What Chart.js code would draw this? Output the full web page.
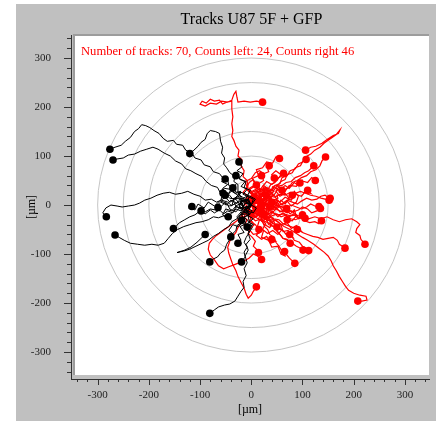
<!DOCTYPE html>
<html>
<head>
<meta charset="utf-8">
<script src="https://cdn.jsdelivr.net/npm/chart.js@4"></script>
<style>
  html, body { margin: 0; padding: 0; background: #fff; }
</style>
</head>
<body>
<canvas id="chart" width="443" height="421"></canvas>
<script>
// Tracks U87 5F + GFP — every track starts at the origin, the dot marks its end

const titleText = 'Tracks U87 5F + GFP';
const xTicks = [-300, -200, -100, 0, 100, 200, 300];
const yTicks = [-300, -200, -100, 0, 100, 200, 300];
const ringRadii = [50, 100, 150, 200, 250, 300];

// tracks that end left of the origin (black)
const blackTracks = [
  [[0,0],[-10,-8],[-22,2],[-14,14],[-26,22],[-20,28],[-30,26],[-36,36],[-44,40],[-46,52],[-56,56],[-62,64],[-74,68],[-80,78],[-92,82],[-98,92],[-110,96],[-116,106],[-128,112],[-134,122],[-146,124],[-152,132],[-164,130],[-172,136],[-180,146],[-190,152],[-198,158],[-206,162],[-214,164],[-220,156],[-228,150],[-236,138],[-246,130],[-254,122],[-266,118],[-276,114]],
  [[0,0],[-14,8],[-6,20],[-20,26],[-32,14],[-30,12],[-42,14],[-50,22],[-60,24],[-66,36],[-78,40],[-88,48],[-96,58],[-108,64],[-118,70],[-128,74],[-136,84],[-148,90],[-158,100],[-170,106],[-182,114],[-192,118],[-204,114],[-216,110],[-228,104],[-240,102],[-250,96],[-262,94],[-270,92]],
  [[0,0],[8,12],[-6,20],[-18,12],[-26,26],[-26,42],[-34,48],[-32,58],[-42,66],[-48,76],[-54,84],[-52,96],[-58,106],[-56,118],[-60,130],[-62,146],[-70,150],[-80,152],[-86,146],[-90,134],[-98,128],[-104,120],[-112,112],[-120,105]],
  [[0,0],[-10,6],[-4,16],[-16,22],[-8,32],[-20,38],[-12,48],[-24,54],[-16,64],[-28,70],[-18,78],[-24,88]],
  [[0,0],[-12,-6],[-20,4],[-30,-2],[-36,10],[-26,20],[-38,28],[-48,22],[-56,34],[-46,42],[-58,48],[-51,53]],
  [[0,0],[-8,12],[-18,6],[-26,16],[-20,26],[-32,24],[-40,34],[-30,42],[-36,35]],
  [[0,0],[-10,-10],[-22,-4],[-30,-14],[-42,-8],[-48,4],[-60,8],[-56,22],[-51,20]],
  [[0,0],[-10,8],[-22,0],[-30,12],[-42,6],[-50,16],[-62,8],[-72,-2],[-84,6],[-92,-6],[-104,2],[-110,-10],[-122,-6],[-116,-3]],
  [[0,0],[-12,-10],[-24,-2],[-18,12],[-34,14],[-38,-2],[-46,6],[-58,10],[-68,6],[-78,12],[-90,10],[-100,18],[-112,22],[-124,28],[-136,24],[-148,22],[-160,26],[-172,24],[-184,20],[-196,14],[-208,10],[-218,4],[-228,0],[-240,-2],[-252,-4],[-262,-2],[-274,0],[-284,-6],[-290,-16],[-283,-24]],
  [[0,0],[-6,12],[-20,8],[-16,-6],[-30,-4],[-34,-12],[-42,-20],[-54,-22],[-64,-26],[-74,-24],[-84,-30],[-96,-34],[-108,-36],[-120,-40],[-132,-44],[-144,-50],[-154,-58],[-162,-68],[-170,-78],[-182,-82],[-194,-80],[-208,-82],[-222,-80],[-236,-78],[-248,-72],[-258,-66],[-266,-61]],
  [[0,0],[-12,-12],[-24,-6],[-20,8],[-32,2],[-42,-2],[-52,4],[-60,-4],[-70,-10],[-80,-8],[-90,-14],[-100,-12],[-110,-20],[-120,-24],[-130,-30],[-140,-36],[-146,-42],[-152,-48]],
  [[0,0],[-8,10],[-20,6],[-14,-6],[-20,-12],[-30,-8],[-36,-16],[-46,-12],[-54,-18],[-62,-10],[-72,-16],[-80,-10],[-90,-18],[-98,-12]],
  [[0,0],[-12,4],[-18,-10],[-8,-18],[-22,-20],[-28,-28],[-38,-34],[-44,-44],[-54,-50],[-64,-58],[-74,-64],[-84,-72],[-96,-78],[-108,-84],[-120,-90],[-132,-94],[-145,-97],[-130,-92],[-118,-86],[-106,-76],[-98,-68],[-90,-60]],
  [[0,0],[-12,-4],[-8,-14],[-20,-18],[-16,-26],[-20,-36],[-28,-42],[-30,-52],[-38,-60],[-42,-70],[-48,-80],[-52,-92],[-60,-98],[-66,-106],[-74,-110],[-81,-116]],
  [[0,0],[-8,-6],[2,-12],[-6,-22],[4,-28],[-6,-36],[-10,-46],[-4,-56],[-10,-66],[-14,-76],[-8,-86],[-14,-96],[-12,-106],[-19,-116]],
  [[0,0],[10,-6],[4,-16],[-8,-12],[-4,-34],[2,-46],[-6,-58],[-2,-70],[-10,-80],[-6,-92],[-12,-104],[-8,-118],[-14,-130],[-10,-144],[-16,-156],[-14,-168],[-20,-176],[-26,-186],[-32,-196],[-42,-202],[-52,-204],[-64,-208],[-72,-214],[-81,-221]],
  [[0,0],[-10,-8],[-4,-20],[-16,-26],[-10,-38],[-22,-44],[-14,-56],[-26,-60],[-20,-72],[-30,-82],[-26,-78]],
  [[0,0],[-12,4],[-20,-8],[-30,-2],[-38,-12],[-50,-8],[-56,-20],[-46,-30],[-45,-24]],
  [[0,0],[-6,12],[-18,8],[-24,18],[-36,12],[-44,22],[-40,32],[-52,34],[-62,28],[-55,24]],
  [[0,0],[-12,-4],[-8,-16],[-20,-14],[-28,-24],[-22,-36],[-12,-40],[-19,-31]],
  [[0,0],[-6,-12],[-18,-14],[-24,-26],[-14,-34],[-26,-44],[-36,-40],[-44,-52],[-34,-60],[-40,-65]],
  [[0,0],[-10,-10],[-2,-18],[-14,-24],[-6,-34],[4,-40],[-8,-45]],
  [[0,0],[4,12],[-8,18],[-2,30],[-14,36],[-10,48],[-22,52],[-26,64],[-30,60]],
  [[0,0],[-8,10],[-20,14],[-28,4],[-40,10],[-48,0],[-60,6],[-70,-4],[-62,-12],[-65,-5]],
];

// tracks that end right of the origin (red); short central ones first
const redTracks = [
  [[0,0],[8,-10],[18,-4],[26,-16],[34,-8],[28,6],[38,14],[30,26],[18,20],[10,30],[-2,24],[-10,34],[-4,46],[4,52],[10,41]],
  [[0,0],[-8,10],[2,20],[-6,30],[6,38],[16,30],[24,40],[34,32],[42,22],[36,10],[44,0],[32,-6],[24,6],[30,20]],
  [[0,0],[10,8],[4,18],[14,26],[24,18],[32,28],[22,38],[30,48],[40,42],[50,50],[58,62],[48,70],[40,62],[45,55]],
  [[0,0],[12,-6],[22,4],[30,-4],[40,6],[50,-2],[58,10],[66,2],[74,14],[66,24],[56,18],[48,28],[54,38],[60,30]],
  [[0,0],[-10,-6],[-4,-18],[6,-26],[16,-20],[22,-32],[34,-26],[42,-36],[36,-46],[26,-40],[18,-30],[25,-20]],
  [[0,0],[6,-12],[-2,-22],[8,-32],[20,-28],[28,-38],[22,-50],[32,-58],[42,-52],[52,-60],[60,-50],[50,-45]],
  [[0,0],[12,4],[20,-6],[30,2],[38,-10],[48,-4],[56,-14],[66,-8],[76,-18],[84,-10],[88,-22],[80,-32],[70,-30]],
  [[0,0],[-6,-12],[4,-20],[-4,-32],[8,-40],[16,-52],[10,-62],[20,-70],[30,-64],[38,-78],[48,-74],[40,-70]],
  [[0,0],[8,-8],[-2,-16],[-12,-10],[-18,-22],[-8,-30],[-14,-42],[-4,-50],[4,-60],[14,-58],[15,-50]],
  [[0,0],[10,10],[22,6],[32,14],[40,4],[52,10],[60,0],[70,8],[78,-2],[88,6],[92,18],[84,28],[80,20]],
  [[0,0],[6,12],[18,14],[14,26],[26,32],[36,26],[46,36],[56,30],[66,40],[74,34],[84,46],[92,40],[100,52],[95,45]],
  [[0,0],[-6,12],[4,22],[-4,34],[8,42],[2,54],[14,60],[10,72],[22,76],[30,88],[38,86],[35,80]],
  [[0,0],[12,10],[6,22],[18,30],[12,42],[24,50],[20,62],[34,68],[30,80],[42,86],[48,98],[55,95]],
  [[0,0],[-8,-4],[-14,8],[-6,18],[-16,26],[-8,36],[-12,48],[0,54],[8,66],[16,70],[24,64],[20,60]],
  [[0,0],[8,-14],[20,-10],[30,-20],[24,-32],[36,-38],[48,-30],[58,-40],[70,-36],[78,-48],[88,-42],[98,-54],[90,-50]],
  [[0,0],[10,-8],[4,-22],[16,-30],[12,-44],[24,-52],[20,-66],[34,-72],[40,-86],[52,-84],[58,-100],[66,-104],[65,-95]],
  [[0,0],[12,-4],[22,6],[34,0],[44,12],[56,6],[66,16],[78,10],[86,22],[98,18],[106,28],[116,24],[110,30]],
  [[0,0],[10,14],[22,10],[30,22],[44,20],[52,32],[66,28],[74,40],[88,38],[96,50],[110,46],[118,56],[125,50]],
  [[0,0],[10,10],[20,4],[28,14],[36,6],[30,-6],[40,-14],[30,-20],[20,-14],[12,-20],[20,-5]],
  [[0,0],[-10,6],[-16,-4],[-8,-14],[4,-10],[12,-2],[18,10],[10,18],[5,10]],
  [[0,0],[12,10],[22,20],[16,30],[28,36],[36,26],[46,18],[52,8],[46,-4],[36,-8],[40,5]],
  [[0,0],[10,-4],[14,-16],[26,-20],[30,-32],[42,-30],[48,-42],[58,-40],[62,-54],[72,-52],[80,-64],[75,-60]],
  [[0,0],[10,-12],[22,-8],[30,-20],[42,-14],[52,-24],[62,-16],[72,-26],[82,-18],[92,-28],[104,-24],[100,-20]],
  [[0,0],[14,-10],[26,2],[18,16],[30,26],[16,34],[4,22],[-6,30],[-8,50],[-16,58],[-14,70],[-20,80],[-18,92],[-26,100],[-24,112],[-30,120],[-34,132],[-38,140],[-36,152],[-38,166],[-36,180],[-38,196],[-38,212],[-48,210],[-56,206],[-62,214],[-72,212],[-80,216],[-88,208],[-96,212],[-100,206],[-90,202],[-80,208],[-68,206],[-58,212],[-46,210],[-38,214],[-34,226],[-30,232],[-28,220],[-26,210],[-14,212],[-2,210],[10,212],[22,210]],
  [[0,0],[16,6],[28,-8],[40,4],[32,18],[44,28],[30,36],[20,24],[40,30],[46,40],[56,44],[60,56],[70,60],[76,70],[86,74],[92,84],[100,88],[106,98],[116,104],[124,112],[134,118],[142,126],[150,132],[158,138],[166,144],[173,153],[170,146],[160,142],[148,134],[138,126],[126,120],[116,118],[106,112]],
  [[0,0],[-10,10],[4,22],[18,10],[30,18],[22,32],[38,28],[42,38],[52,40],[58,48],[66,52],[70,62],[80,66],[86,76],[96,80],[100,88],[107,93]],
  [[0,0],[10,-18],[24,-10],[36,-22],[48,-8],[40,6],[52,14],[50,20],[60,22],[66,32],[74,36],[80,46],[90,50],[98,56],[108,60],[116,68],[126,72],[134,80],[138,90],[145,98]],
  [[0,0],[18,-6],[30,8],[20,22],[10,14],[-2,26],[12,34],[28,22],[34,30],[44,30],[50,38],[60,40],[68,46],[78,48],[86,56],[96,60],[104,66],[112,70],[118,76],[122,80]],
  [[0,0],[-10,-8],[4,-16],[16,-4],[8,10],[22,18],[16,16],[24,20],[26,30],[34,34],[38,42],[46,46],[50,54],[58,58],[63,65]],
  [[0,0],[8,18],[22,24],[30,10],[20,-4],[36,-12],[44,8],[52,-2],[62,4],[70,10],[80,6],[90,2],[98,8],[108,14],[118,10],[128,12],[136,18],[144,20],[150,16],[154,14]],
  [[0,0],[10,14],[24,6],[16,-10],[30,-20],[38,-6],[42,-2],[52,-10],[60,-14],[68,-6],[78,0],[88,-4],[98,-8],[108,-4],[116,2],[124,-2],[132,-3]],
  [[0,0],[-8,-12],[6,-22],[20,-12],[14,4],[28,2],[36,-6],[46,-10],[54,-4],[64,-2],[72,-10],[82,-14],[92,-10],[100,-4],[110,-8],[118,-16],[128,-12],[135,-7]],
  [[0,0],[14,10],[26,-2],[20,-18],[34,-26],[40,-22],[50,-18],[58,-24],[68,-20],[76,-28],[86,-30],[96,-26],[104,-32],[114,-36],[124,-34],[132,-38],[137,-32]],
  [[0,0],[-6,16],[10,22],[20,10],[32,20],[38,8],[38,0],[46,-6],[54,-2],[62,-12],[70,-16],[78,-12],[86,-18],[92,-26],[100,-24],[105,-27]],
  [[0,0],[12,12],[20,-4],[8,-16],[20,-24],[28,-28],[36,-32],[38,-42],[46,-44],[50,-54],[56,-60],[62,-68],[70,-70],[76,-78]],
  [[0,0],[-8,10],[6,18],[18,6],[12,-10],[26,-16],[22,-24],[32,-26],[38,-34],[46,-40],[52,-48],[62,-52],[68,-60],[78,-62],[84,-72],[94,-76],[100,-84],[108,-88],[112,-93]],
  [[0,0],[14,6],[24,-8],[12,-20],[24,-28],[30,-30],[34,-40],[44,-44],[50,-52],[56,-60],[62,-68],[72,-72],[80,-78],[88,-84],[96,-88],[101,-92]],
  [[0,0],[-4,16],[12,20],[24,8],[18,-8],[32,-14],[36,-22],[44,-28],[54,-30],[62,-38],[72,-42],[82,-46],[92,-50],[100,-56],[110,-60],[120,-64],[130,-66],[140,-70],[150,-68],[160,-66],[168,-72],[172,-80],[178,-84],[183,-88]],
  [[0,0],[10,12],[24,8],[34,20],[46,6],[40,-10],[42,-16],[52,-20],[64,-18],[76,-22],[88,-20],[100,-26],[112,-28],[124,-24],[136,-28],[148,-24],[160,-30],[172,-34],[184,-30],[196,-28],[206,-34],[212,-40],[206,-48],[204,-56],[212,-62],[214,-70],[222,-80]],
  [[0,0],[14,-4],[22,8],[34,0],[28,-14],[18,-20],[14,-28],[22,-34],[26,-44],[32,-50],[36,-60],[44,-66],[48,-76],[54,-84],[60,-94],[68,-100],[74,-108],[80,-114],[85,-119]],
  [[0,0],[10,8],[18,-4],[8,-14],[-6,-10],[0,-32],[6,-40],[-2,-48],[-6,-58],[2,-66],[8,-74],[4,-84],[10,-90],[14,-97]],
  [[0,0],[8,-16],[-4,-24],[-16,-14],[-10,-4],[-20,-24],[-28,-32],[-36,-38],[-44,-44],[-52,-50],[-60,-56],[-68,-62],[-76,-70],[-82,-78],[-84,-90],[-80,-102],[-72,-112],[-64,-124],[-54,-130],[-44,-126],[-34,-122],[-24,-118],[-14,-114],[-4,-108],[4,-100],[12,-104],[20,-111]],
  [[0,0],[10,-14],[0,-24],[-12,-16],[-14,-28],[-20,-36],[-26,-46],[-30,-56],[-36,-64],[-42,-74],[-46,-86],[-44,-98],[-40,-110],[-36,-122],[-30,-134],[-26,-146],[-20,-158],[-14,-170],[-10,-182],[-6,-190],[0,-184],[4,-176],[10,-167]],
  [[0,0],[-8,-14],[6,-24],[20,-18],[30,-30],[30,-22],[42,-28],[54,-36],[64,-44],[76,-50],[88,-58],[100,-66],[110,-72],[122,-80],[132,-88],[142,-96],[150,-104],[156,-114],[160,-124],[166,-134],[172,-146],[178,-156],[184,-166],[190,-174],[200,-180],[212,-184],[224,-186],[226,-194],[216,-196],[208,-196]],
  [[0,0],[-6,-12],[10,-18],[22,-6],[14,8],[28,14],[34,-4],[42,0],[50,6],[56,-2],[62,-6],[69,-7]],
  [[0,0],[8,-14],[20,-6],[14,10],[26,22],[28,12],[36,18],[46,16],[56,22],[66,20],[76,26],[86,24],[96,28],[106,24],[116,20],[126,18],[136,14],[144,12],[152,10]],
];

const SERIF = '"Liberation Serif", "Times New Roman", serif';
const noteText = `Number of tracks: ${blackTracks.length + redTracks.length}, Counts left: ${blackTracks.length}, Counts right ${redTracks.length}`;

const toDataset = (track, color, width) => ({
  data: track.map(([x, y]) => ({ x, y })),
  showLine: true,
  borderColor: color,
  backgroundColor: color,
  borderWidth: width,
  pointBackgroundColor: color,
  pointBorderWidth: 0,
  pointRadius: (c) => (c.dataIndex === track.length - 1 ? 3.8 : 0),
  pointHoverRadius: 0,
  tension: 0,
});

// gray frame, title, white plot field, rings, minor ticks and the red note
const backdrop = {
  id: 'backdrop',
  beforeDraw(chart) {
    const { ctx, chartArea: a } = chart;
    ctx.save();
    ctx.fillStyle = '#c0c0c0';
    ctx.fillRect(16, 4, 420, 417);
    ctx.fillStyle = '#fff';
    ctx.fillRect(a.left + 3, a.top, a.right - a.left - 3, a.bottom - a.top - 4);
    ctx.strokeStyle = '#9c9c9c';
    ctx.lineWidth = 2;
    ctx.beginPath();
    ctx.moveTo(a.left + 3, a.bottom - 4);
    ctx.lineTo(a.left + 3, a.top);
    ctx.lineTo(a.right, a.top);
    ctx.stroke();
    ctx.fillStyle = '#000';
    ctx.font = `16px ${SERIF}`;
    ctx.textAlign = 'center';
    ctx.textBaseline = 'middle';
    ctx.fillText(titleText, (a.left + 3 + a.right) / 2, 20);
    ctx.restore();
  },
  beforeDatasetsDraw(chart) {
    const { ctx, scales: { x, y } } = chart;
    const cx = x.getPixelForValue(0);
    const cy = y.getPixelForValue(0);
    ctx.save();
    ctx.strokeStyle = '#c6c6c6';
    ctx.lineWidth = 1;
    ringRadii.forEach((r) => {
      ctx.beginPath();
      ctx.ellipse(cx, cy, x.getPixelForValue(r) - cx, cy - y.getPixelForValue(r), 0, 0, Math.PI * 2);
      ctx.stroke();
    });
    ctx.restore();
  },
  afterDraw(chart) {
    const { ctx, chartArea: a, scales: { x, y } } = chart;
    ctx.save();
    ctx.strokeStyle = '#333';
    ctx.lineWidth = 1;
    ctx.beginPath();
    for (let v = -340; v <= 340; v += 20) {
      const len = v % 100 === 0 ? 7 : 4;
      const py = Math.round(y.getPixelForValue(v)) + 0.5;
      if (py >= a.top && py <= a.bottom) {
        ctx.moveTo(a.left - len, py);
        ctx.lineTo(a.left, py);
      }
      const px = Math.round(x.getPixelForValue(v)) + 0.5;
      if (px >= a.left && px <= a.right) {
        ctx.moveTo(px, a.bottom);
        ctx.lineTo(px, a.bottom + (len === 7 ? 6 : 3));
      }
    }
    ctx.stroke();
    ctx.fillStyle = '#ff0000';
    ctx.font = `12.6px ${SERIF}`;
    ctx.textBaseline = 'alphabetic';
    ctx.fillText(noteText, a.left + 10, a.top + 20);
    ctx.restore();
  },
};

const tickFont = { family: SERIF, size: 11 };

new Chart(document.getElementById('chart'), {
  type: 'scatter',
  data: {
    datasets: [
      ...blackTracks.map((t) => toDataset(t, '#000000', 1)),
      ...redTracks.map((t) => toDataset(t, '#ff0000', 1.2)),
    ],
  },
  options: {
    responsive: false,
    animation: false,
    layout: { padding: { left: 16, right: 14, top: 35, bottom: 0 } },
    plugins: {
      legend: { display: false },
      tooltip: { enabled: false },
      title: { display: false },
    },
    scales: {
      x: {
        type: 'linear',
        position: 'bottom',
        min: -352,
        max: 347,
        grid: { display: false },
        border: { display: true, color: '#333', width: 1 },
        ticks: { font: tickFont, color: '#222', padding: 2, maxRotation: 0 },
        afterBuildTicks: (s) => { s.ticks = xTicks.map((value) => ({ value })); },
        afterFit: (s) => { s.height = 42; },
        title: { display: true, text: '[µm]', color: '#000', font: { family: SERIF, size: 12 }, padding: { top: 0, bottom: 4 } },
      },
      y: {
        type: 'linear',
        position: 'left',
        min: -355,
        max: 347,
        grid: { display: false },
        border: { display: true, color: '#333', width: 1 },
        ticks: { font: tickFont, color: '#222', padding: 12 },
        afterBuildTicks: (s) => { s.ticks = yTicks.map((value) => ({ value })); },
        afterFit: (s) => { s.width = 55; },
        title: { display: true, text: '[µm]', color: '#000', font: { family: SERIF, size: 12 }, padding: { top: 8.8, bottom: 0 } },
      },
    },
  },
  plugins: [backdrop],
});
</script>
</body>
</html>
